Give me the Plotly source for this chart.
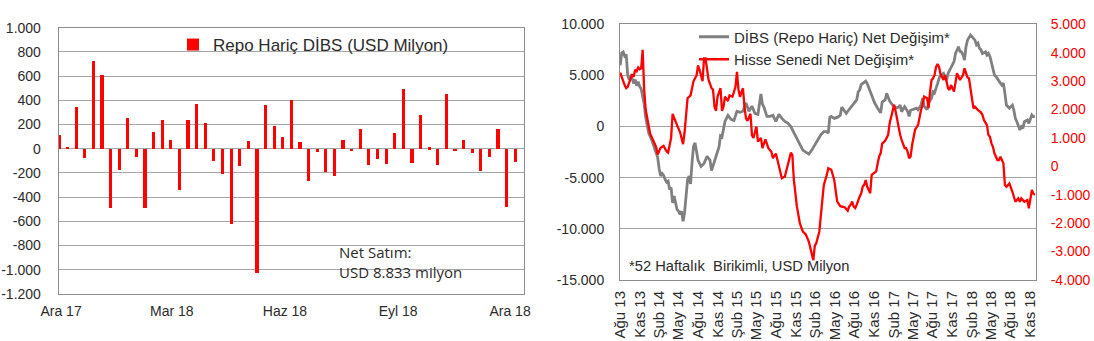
import numpy as np
import pandas as pd
import plotly.graph_objects as go

W, H = 1094, 341

# ---------------- Left chart data (weekly, USD mn) ----------------
bar_start = "2017-11-29"
bar_vals = [115, 20, 346, -75, 727, 614, -487, -172, 260, -66, -487, 144, 243, 77,
            -335, 240, 373, 213, -97, -208, -617, -140, 69, -1025, 365, 192, 100,
            405, 60, -262, -25, -188, -225, 77, -20, 165, -130, -83, -125, 135, 496,
            -116, 281, 13, -135, 457, -15, 77, -30, -180, -64, 165, -476, -105]
bar_tick_dates = ["2017-12-01", "2018-03-01", "2018-06-01", "2018-09-01", "2018-12-01"]
bar_tick_text = ["Ara 17", "Mar 18", "Haz 18", "Eyl 18", "Ara 18"]
left_y_ticks = [1000, 800, 600, 400, 200, 0, -200, -400, -600, -800, -1000, -1200]

# ---------------- Right chart data (52-week cumulative, USD mn) ----------------
line_start = "2013-08-02"
gray_weeks = [0, 1, 2, 3, 4, 5, 6, 7, 8, 9, 10, 11, 12, 13, 14, 15, 16, 17, 18, 19, 21, 23, 25,
              26, 27, 28, 29, 30, 31, 32, 33, 34, 35, 36, 37, 38, 39, 40, 41, 42, 43, 44, 45,
              46, 47, 48, 49, 50, 51, 52, 54, 56, 58, 60, 61, 62, 64, 66, 67, 68, 70, 72, 74,
              76, 78, 80, 82, 84, 86, 88, 90, 92, 94, 95, 96, 98, 100, 102, 104, 106, 108,
              110, 112, 114, 116, 118, 120, 122, 124, 126, 128, 130, 132, 134, 136, 138, 139,
              140, 141, 143, 145, 147, 148, 150, 151, 152, 154, 156, 158, 159, 160, 161, 163,
              164, 165, 166, 167, 168, 169, 170, 172, 173, 174, 175, 177, 178, 179, 180, 182,
              184, 186, 187, 188, 190, 192, 193, 194, 196, 198, 199, 201, 202, 203, 205, 206,
              208, 209, 210, 211, 212, 213, 214, 216, 218, 219, 221, 223, 224, 226, 227, 228,
              229, 230, 231, 232, 234, 236, 237, 238, 239, 240, 241, 242, 244, 245, 246, 247,
              248, 249, 250, 251, 253, 254, 255, 256, 257, 258, 260, 262, 263, 264, 265, 266,
              267, 268, 269, 270, 272, 273, 274, 275, 276, 277]
gray_vals = [6000, 7200, 7300, 6900, 7050, 5000, 4600, 4900, 4700, 4200, 4600, 4000, 4400, 3900,
             3700, 2900, 2200, 900, 300, -600, -1300, -2200, -3000,
             -4100, -4840, -4580, -4770, -5170, -5430, -5330, -6150, -5980, -7460, -6800, -7460,
             -8110, -8270, -8600, -8270, -9250, -8400, -6500, -5200,
             -4840, -5600, -3500, -1900, -1600, -2300, -3300, -3900, -3600, -2900, -3300, -4300,
             -3800, -2800, -2000, -900, -1000, 500, 1100, 700,
             600, 1500, 1400, 1500, 2300, 1500, 2000, 1300, 1200, 3200, 2200, 1900, 1000, 1000,
             1100, 500, 1200, 800,
             500, 350, 0, -600, -1200, -1700, -2300, -2500, -2700, -2300, -1800, -1300, -800,
             -500, -500, -650,
             900, 1000, 800, 900, 1100, 1900, 1500, 1300, 1500, 1900, 2200, 2600, 3400, 3600,
             4100, 4300,
             4450, 4200, 3800, 3300, 3000, 2600, 2300, 1800, 1500, 1350, 2400, 2600, 3250, 2950,
             2500, 2100,
             1800, 1900, 2100, 1450, 1950, 1500, 1000, 1600, 1700, 1800, 1650, 2100, 2800, 2000,
             1650, 2300,
             2800, 3400, 3300, 3900, 4200, 4700, 5000, 5200, 4500, 5200, 5800, 6350, 7150, 7800,
             7350, 7300,
             7000, 6500, 7800, 8450, 8950, 8650, 8450, 8000, 8150, 7650, 7500, 7150, 7300, 7000,
             7150, 6850,
             6200, 5550, 5050, 4900, 4400, 4250, 4050, 4250, 3250, 2100, 1800, 2100, 1600, 800,
             480, -10,
             -330, -10, -170, 480, 650, 320, 810, 1130, 970, 1040]

red_weeks = [0, 1, 2, 3, 4, 5, 6, 7, 8, 9, 10, 11, 12, 13, 14, 15, 16, 17, 18, 20, 22, 24, 25,
             27, 29, 31, 32, 34, 35, 37, 38, 40, 42, 43, 44, 45, 47, 49, 51, 52, 53, 55, 56, 57,
             59, 61, 62, 63, 64, 65, 67, 68, 69, 70, 72, 73, 75, 77, 78, 79, 80, 81, 82, 83, 84,
             85, 87, 88, 89, 91, 92, 94, 95, 97, 99, 101, 102, 104, 106, 108, 110, 112, 114, 115,
             116, 118, 120, 122, 124, 126, 128, 129, 130, 131, 133, 135, 136, 138, 139, 141, 142,
             143, 144, 145, 147, 148, 150, 152, 153, 154, 155, 156, 157, 158, 159, 160, 161, 162,
             163, 164, 165, 166, 167, 168, 170, 171, 172, 173, 174, 175, 177, 179, 180, 181, 182,
             183, 184, 185, 186, 187, 188, 190, 191, 192, 193, 194, 195, 196, 197, 199, 200, 201,
             202, 203, 205, 206, 207, 208, 209, 210, 211, 212, 213, 214, 215, 216, 217, 219, 220,
             221, 223, 224, 225, 227, 229, 230, 232, 233, 234, 235, 236, 237, 239, 241, 242, 243,
             245, 246, 247, 248, 249, 250, 251, 252, 253, 254, 255, 256, 257, 258, 260, 261, 262,
             263, 264, 265, 266, 267, 268, 270, 272, 273, 274, 275, 276, 277]
red_vals = [3300, 3100, 3000, 2850, 2750, 2800, 2950, 3150, 3250, 3150, 3400, 3350, 3480, 3420,
            3450, 4100, 2700, 2000, 1700, 1150, 920, 680, 420,
            650, 720, 520, 480, 1000, 1850, 1550, 1450, 1200, 780, 1200, 2000, 2400, 2500, 3000,
            3200, 3550, 3400, 3000, 3800, 3800,
            3050, 2750, 2700, 2100, 1950, 2450, 2750, 1950, 2100, 2450, 2300, 2500, 2450, 2800,
            3330, 2700, 2450, 2600, 2750, 2100, 1700,
            1600, 1850, 1100, 1000, 1400, 870, 1000, 640, 950, 640, 510, 290, 450, 0, -420, -360,
            50, 480, 400,
            -470, -1400, -2000, -2300, -2400, -2650, -3060, -3300, -2800, -2700, -2300, -1200,
            -660, -300, -65, -120, -300,
            -480, -880, -1240, -1400, -1420, -1440, -1560, -1410, -1350, -1240, -1420, -1470,
            -1350, -1180, -1060, -950, -710,
            -650, -480, -710, -830, -945, -300, -240, -180, 100, 350, 460, 800, 900, 1110, 1520,
            1750, 2050,
            2170, 1930, 1640, 1400, 1110, 930, 640, 640, 520, 290, 350, 750, 990, 1290, 1460,
            1810, 1990,
            2170, 2460, 2400, 2050, 2640, 3040, 3100, 3220, 3500, 3600, 3500, 3250, 3150, 3040,
            3215, 2750, 2690,
            2860, 2630, 3040, 3280, 3040, 3215, 3450, 3130, 3100, 2750, 2335, 2040, 2100, 1980,
            1900, 1806, 1630,
            1450, 1100, 1040, 810, 690, 460, 300, 222, 222, 338, 222, 106, -658, -718, -600,
            -718, -894,
            -1070, -1246, -1186, -1127, -1246, -1127, -1246, -1186, -1479, -1186, -834, -952,
            -1010]

line_tick_dates = ["2013-08-01", "2013-11-01", "2014-02-01", "2014-05-01", "2014-08-01",
                   "2014-11-01", "2015-02-01", "2015-05-01", "2015-08-01", "2015-11-01",
                   "2016-02-01", "2016-05-01", "2016-08-01", "2016-11-01", "2017-02-01",
                   "2017-05-01", "2017-08-01", "2017-11-01", "2018-02-01", "2018-05-01",
                   "2018-08-01", "2018-11-01"]
line_tick_text = ["Ağu 13", "Kas 13", "Şub 14", "May 14", "Ağu 14", "Kas 14", "Şub 15",
                  "May 15", "Ağu 15", "Kas 15", "Şub 16", "May 16", "Ağu 16", "Kas 16",
                  "Şub 17", "May 17", "Ağu 17", "Kas 17", "Şub 18", "May 18", "Ağu 18",
                  "Kas 18"]
right_left_ticks = [10000, 5000, 0, -5000, -10000, -15000]
right_right_ticks = [5000, 4000, 3000, 2000, 1000, 0, -1000, -2000, -3000, -4000]


def fmt(v):
    s = f"{abs(v):,}".replace(",", ".")
    return ("-" if v < 0 else "") + s


bar_dates = pd.date_range(bar_start, periods=len(bar_vals), freq="7D")
gray_dates = pd.Timestamp(line_start) + pd.to_timedelta(np.array(gray_weeks) * 7, unit="D")
red_dates = pd.Timestamp(line_start) + pd.to_timedelta(np.array(red_weeks) * 7, unit="D")


def px_x(p):
    return p / W


def px_y(p):
    return 1 - p / H


FONT = "Liberation Sans, Arial, sans-serif"
TXT = "#2b2b2b"
GRID = "#a6a6a6"
FRAME = "#8c8c8c"

fig = go.Figure()
fig.add_trace(go.Bar(
    x=bar_dates, y=bar_vals, width=2.6 * 86400000,
    marker=dict(color="#ff0000", line=dict(width=0)),
    name="Repo Hariç DİBS (USD Milyon)", xaxis="x", yaxis="y",
    legend="legend", showlegend=True))
fig.add_trace(go.Scatter(
    x=gray_dates, y=gray_vals, mode="lines",
    line=dict(color="#808080", width=2.8),
    name="DİBS (Repo Hariç) Net Değişim*", xaxis="x2", yaxis="y2",
    legend="legend2", showlegend=True))
fig.add_trace(go.Scatter(
    x=red_dates, y=red_vals, mode="lines",
    line=dict(color="#ff0000", width=2.3),
    name="Hisse Senedi Net Değişim*", xaxis="x2", yaxis="y3",
    legend="legend2", showlegend=True))

fig.update_layout(
    width=W, height=H,
    margin=dict(l=0, r=0, t=0, b=0, autoexpand=False),
    showlegend=True,
    paper_bgcolor="white", plot_bgcolor="white",
    font=dict(family=FONT, size=14, color=TXT),
    bargap=0,
    xaxis=dict(
        domain=[px_x(58.7), px_x(524.3)], anchor="y", type="date", automargin=False,
        range=["2017-11-29 02:00", "2018-12-12 14:00"],
        tickmode="array", tickvals=bar_tick_dates, ticktext=bar_tick_text,
        showgrid=False, zeroline=False, showline=True, mirror=True,
        linecolor=FRAME, linewidth=1, ticks="", ticklabelstandoff=4),
    yaxis=dict(
        domain=[px_y(294), px_y(27.7)], anchor="x", automargin=False,
        range=[-1200, 1000], tickmode="array", tickvals=left_y_ticks,
        ticktext=[fmt(v) for v in left_y_ticks],
        showgrid=True, gridcolor=GRID, gridwidth=1, zeroline=False,
        showline=True, mirror=True, linecolor=FRAME, linewidth=1,
        ticks="", ticklabelstandoff=14),
    xaxis2=dict(
        domain=[px_x(620), px_x(1035.7)], anchor="y2", type="date", automargin=False,
        range=["2013-08-01", "2018-11-27"],
        tickmode="array", tickvals=line_tick_dates, ticktext=line_tick_text,
        tickfont=dict(size=15),
        tickangle=-90, showgrid=False, zeroline=False, showline=True, mirror=True,
        linecolor=FRAME, linewidth=1, ticks="", ticklabelstandoff=4),
    yaxis2=dict(
        domain=[px_y(280), px_y(24.3)], anchor="x2", automargin=False,
        range=[-15000, 10000], tickmode="array", tickvals=right_left_ticks,
        ticktext=[fmt(v) for v in right_left_ticks],
        showgrid=True, gridcolor=GRID, gridwidth=1, zeroline=False,
        showline=True, mirror=True, linecolor=FRAME, linewidth=1,
        ticks="", ticklabelstandoff=12),
    yaxis3=dict(
        overlaying="y2", anchor="x2", side="right", automargin=False,
        range=[-4000, 5000], tickmode="array", tickvals=right_right_ticks,
        ticktext=[fmt(v) for v in right_right_ticks],
        tickfont=dict(color="#ff0000"),
        showgrid=False, zeroline=False, showline=False,
        ticks="", ticklabelstandoff=14),
    legend=dict(
        x=px_x(173), y=px_y(45), xanchor="left", yanchor="middle",
        bgcolor="rgba(0,0,0,0)", borderwidth=0, visible=True,
        font=dict(family=FONT, size=17, color=TXT)),
    legend2=dict(
        x=px_x(694), y=px_y(48), xanchor="left", yanchor="middle",
        bgcolor="rgba(0,0,0,0)", borderwidth=0, tracegroupgap=0, visible=True,
        font=dict(family=FONT, size=15, color=TXT)),
    annotations=[
        dict(text="Net Satım:", x=px_x(337), y=px_y(252), xref="paper", yref="paper",
             xanchor="left", yanchor="middle", showarrow=False,
             font=dict(family="Open Sans, sans-serif", size=15, color=TXT)),
        dict(text="USD 8.833 milyon", x=px_x(337), y=px_y(272), xref="paper", yref="paper",
             xanchor="left", yanchor="middle", showarrow=False,
             font=dict(family="Open Sans, sans-serif", size=15, color=TXT)),
        dict(text="*52 Haftalık  Birikimli, USD Milyon", x=px_x(627), y=px_y(266),
             xref="paper", yref="paper", xanchor="left", yanchor="middle", showarrow=False,
             font=dict(family=FONT, size=14.7, color=TXT)),
    ],
)

fig.write_html("out.html")
